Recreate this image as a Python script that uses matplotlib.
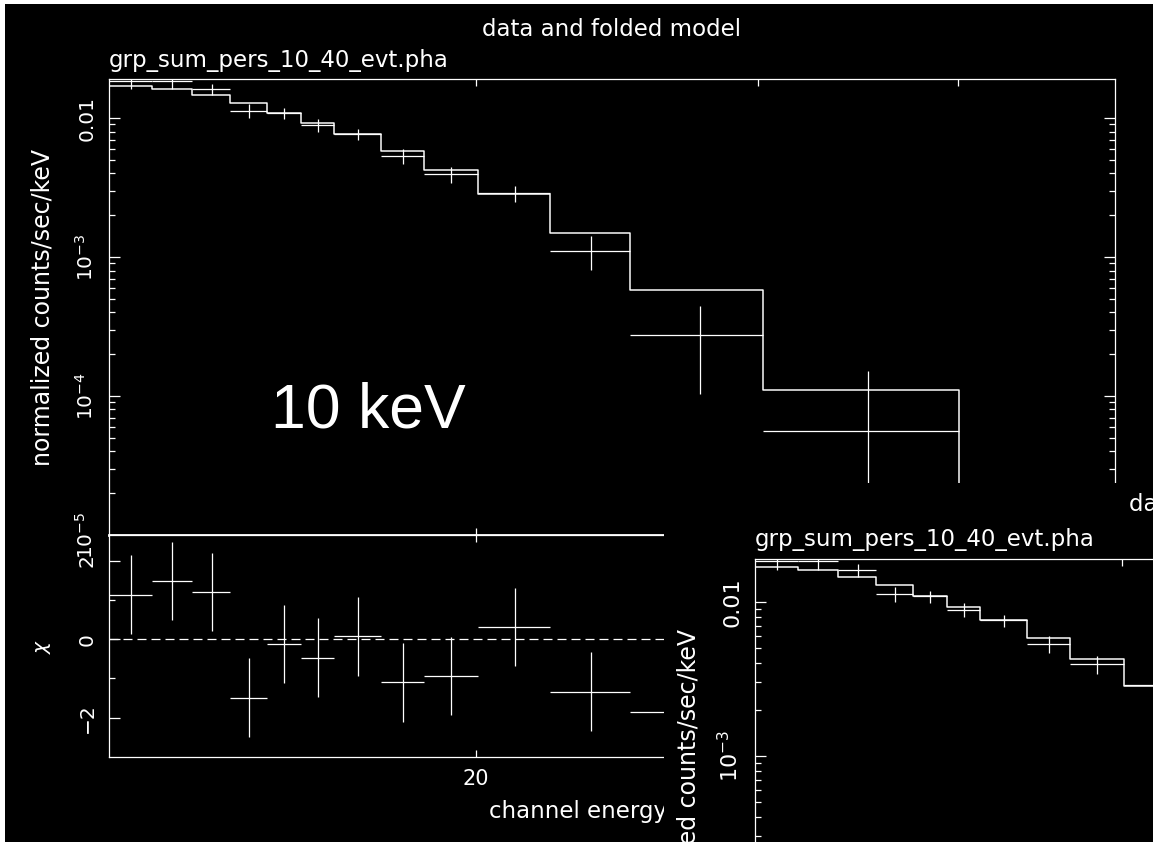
import numpy as np
import matplotlib
matplotlib.use('Agg')
from matplotlib import pyplot as plt
from matplotlib.patches import Rectangle
from matplotlib.ticker import NullLocator, NullFormatter, FixedLocator, LogLocator

W, H = 1153, 842

# grouped channel bins (keV), folded spectrum and fit residuals
edges = [11.8, 12.55, 13.3, 14.05, 14.8, 15.55, 16.3, 17.45, 18.55, 20.05, 22.25, 24.95, 30.2, 40.05]
data = [0.0185, 0.0185, 0.0161, 0.0113, 0.0109, 0.0089, 0.00762, 0.00532, 0.00394, 0.00287, 0.00111, 2.76e-4, 5.6e-5]
data_err = [0.0023, 0.0023, 0.00155, 0.0013, 0.0010, 0.00095, 0.00068, 0.00066, 0.00054, 0.0004, 0.0003, 1.72e-4, 9.6e-5]
model = [0.0170, 0.0161, 0.01458, 0.0129, 0.0109, 0.00925, 0.00766, 0.00581, 0.00426, 0.00283, 0.0015, 5.83e-4, 1.10e-4]
delchi = [1.13, 1.48, 1.20, -1.49, -0.12, -0.47, 0.07, -1.10, -0.94, 0.31, -1.34, -1.85, -0.57]
delchi_err = [1.0] * 13

xticks = [20, 30, 40]
xticklabels = ['20', '30', '40']
yticks = [1e-5, 1e-4, 1e-3, 1e-2]
yticklabels = ['$10^{-5}$', '$10^{-4}$', '$10^{-3}$', '0.01']
rticks = [-2, 0, 2]
rticklabels = ['\u22122', '0', '2']

plt.rcParams['font.family'] = 'DejaVu Sans'
plt.rcParams['font.size'] = 14.5
plt.rcParams['mathtext.fontset'] = 'dejavusans'

LW = 0.9
FS_TXT = 16.5
FS_YLAB = 17
fig = plt.figure(figsize=(W / 100, H / 100), dpi=100, facecolor='black')


def fbox(x0, y0, x1, y1):
    return [x0 / W, 1 - y1 / H, (x1 - x0) / W, (y1 - y0) / H]


def ftext(x, y, s, **kw):
    fig.text(x / W, 1 - y / H, s, color='white', **kw)


def style(ax, z):
    ax.set_zorder(z)
    ax.set_facecolor('black')
    for s in ax.spines.values():
        s.set_color('white')
        s.set_linewidth(LW)
    ax.tick_params(which='both', direction='in', colors='white', width=LW,
                   top=True, right=True, bottom=True, left=True)
    ax.tick_params(axis='y', which='major', length=8, pad=9)
    ax.tick_params(axis='y', which='minor', length=4)
    ax.tick_params(axis='x', which='major', length=4.7, pad=8.5)


def draw_spectrum(dx, top, sy, z, ylab_y, resid=True):
    X = lambda x: x + dx
    Y = lambda y: top + (y - 79) * sy
    fs_rot = 14.5 * sy
    lo = np.array(edges[:-1])
    hi = np.array(edges[1:])
    xc = (lo + hi) / 2

    ax = fig.add_axes(fbox(X(109), Y(79), X(1115), Y(535)))
    style(ax, z)
    ax.set_xscale('log')
    ax.set_yscale('log')
    ax.set_xlim(11.8, 50.1)
    ax.set_ylim(1e-5, 0.0191)
    ax.set_xticks(xticks)
    ax.set_xticklabels([])
    ax.xaxis.set_minor_locator(NullLocator())
    ax.set_yticks(yticks)
    ax.set_yticklabels(yticklabels, rotation=90, va='center', fontsize=fs_rot)
    ax.yaxis.set_minor_locator(LogLocator(base=10, subs=np.arange(2, 10)))
    ax.yaxis.set_minor_formatter(NullFormatter())
    ax.spines['bottom'].set_linewidth(2)

    d = np.array(data)
    e = np.array(data_err)
    ax.hlines(d, lo, hi, color='white', lw=LW)
    ax.vlines(xc, np.maximum(d - e, 1e-8), d + e, color='white', lw=LW)
    xs = np.append(np.repeat(edges, 2)[1:-1], edges[-1])
    ys = np.append(np.repeat(model, 2), 1e-8)
    ax.plot(xs, ys, color='white', lw=LW * 1.2)

    ftext(X(612), Y(36), 'data and folded model', ha='center', va='baseline',
          fontsize=FS_TXT, zorder=z + 1)
    ftext(X(109), Y(67), 'grp_sum_pers_10_40_evt.pha', ha='left', va='baseline',
          fontsize=FS_TXT, zorder=z + 1)
    ftext(X(43), ylab_y, 'normalized counts/sec/keV', rotation=90, ha='center', va='center',
          fontsize=FS_YLAB, zorder=z + 1)

    if resid:
        ar = fig.add_axes(fbox(X(109), Y(535), X(1115), Y(757)))
        style(ar, z)
        ar.set_xscale('log')
        ar.set_xlim(11.8, 50.1)
        ar.set_ylim(-3.0, 2.65)
        ar.set_xticks(xticks)
        ar.set_xticklabels(xticklabels, fontsize=15)
        ar.xaxis.set_minor_locator(NullLocator())
        ar.set_yticks(rticks)
        ar.set_yticklabels(rticklabels, rotation=90, va='center', fontsize=fs_rot)
        ar.yaxis.set_minor_locator(FixedLocator([-1, 1]))
        r = np.array(delchi)
        re = np.array(delchi_err)
        ar.hlines(r, lo, hi, color='white', lw=LW)
        ar.vlines(xc, r - re, r + re, color='white', lw=LW)
        ar.axhline(0, color='white', lw=LW, ls=(0, (7.2, 4)))
        ftext(X(43), Y(646), r'$\chi$', rotation=90, ha='center', va='center',
              fontsize=14.5, zorder=z + 1)
        ftext(X(612), Y(818), 'channel energy (keV)', ha='center', va='baseline',
              fontsize=FS_TXT, zorder=z + 1)


# full plot
draw_spectrum(0, 79, 1.0, z=1, ylab_y=307, resid=True)
ftext(368, 428, '10 keV', fontsize=45, family='Liberation Sans', ha='center', va='baseline', zorder=5)

# pasted second copy in the lower right corner
cover = fig.add_axes(fbox(664, 483, W + 5, H + 5))
cover.set_facecolor('black')
cover.set_xticks([])
cover.set_yticks([])
for s in cover.spines.values():
    s.set_visible(False)
cover.set_zorder(10)
draw_spectrum(646, 559, 1.105, z=11, ylab_y=787, resid=False)

# white slide margin
fig.add_artist(Rectangle((0, 1 - 4 / H), 1, 4 / H, transform=fig.transFigure,
                         facecolor='white', edgecolor='none', zorder=30))
fig.add_artist(Rectangle((0, 0), 5 / W, 1, transform=fig.transFigure,
                         facecolor='white', edgecolor='none', zorder=30))

fig.savefig('out.png', dpi=100, facecolor='black')
